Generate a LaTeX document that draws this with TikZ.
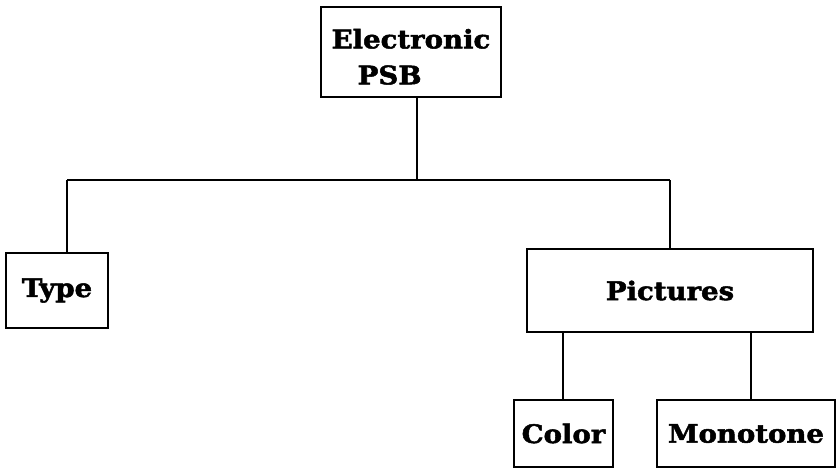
\documentclass[tikz,border=0pt]{standalone}
\usepackage{fontspec}
\newfontfamily\boxfont[FakeStretch=1.08,FakeBold=2]{DejaVu Serif}
\begin{document}
\begin{tikzpicture}[x=1pt,y=1pt,
  box/.style={draw, line width=1.6pt, inner sep=0pt, font=\boxfont\bfseries\fontsize{25.5}{36}\selectfont},
  conn/.style={line width=1.4pt}]
\useasboundingbox (0,0) rectangle (837,-469);
\node[box, minimum width=180, minimum height=90, align=left] (top) at (411,-52) {\rule{0pt}{29pt}Electronic\\\hspace*{26pt}PSB};
\node[box, minimum width=102, minimum height=75] (type) at (57,-290.5) {Type};
\node[box, minimum width=286, minimum height=83] (pic) at (670,-290.5) {Pictures};
\node[box, minimum width=99, minimum height=67] (color) at (563.5,-433.5) {Color};
\node[box, minimum width=178, minimum height=67] (mono) at (746,-433.5) {Monotone};
\coordinate (busL) at (67,-180);
\coordinate (busR) at (670,-180);
\coordinate (busM) at (417,-180);
\coordinate (colorTop) at ([xshift=-0.5pt]color.north);
\coordinate (monoTop) at ([xshift=5pt]mono.north);
\draw[conn] (busM |- top.south) -- (busM);
\draw[conn] (busL) -- (busR);
\draw[conn] (busL) -- (busL |- type.north);
\draw[conn] (busR) -- (busR |- pic.north);
\draw[conn] (colorTop |- pic.south) -- (colorTop);
\draw[conn] (monoTop |- pic.south) -- (monoTop);
\end{tikzpicture}
\end{document}
